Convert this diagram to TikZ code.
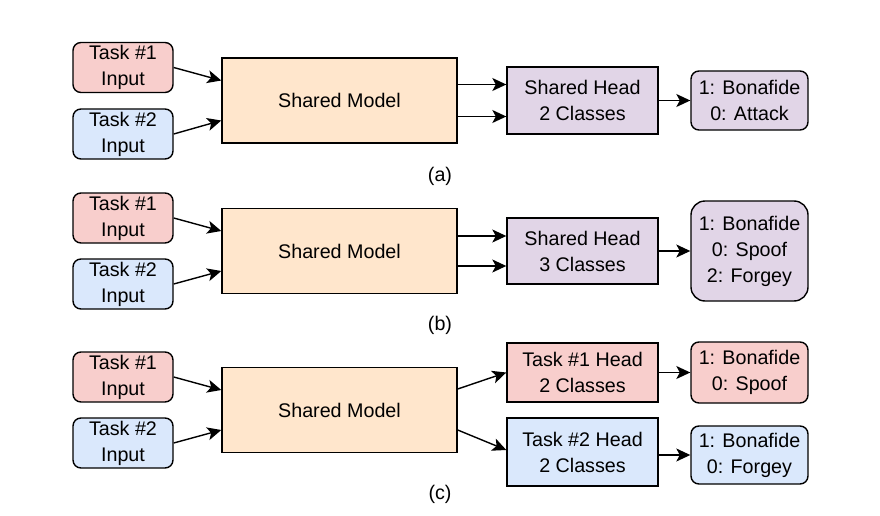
\documentclass[tikz,border=0pt]{standalone}
\usepackage{fontspec}
\setmainfont{Liberation Sans}
\usetikzlibrary{arrows.meta,calc}
\definecolor{redf}{HTML}{F8CECC}
\definecolor{bluef}{HTML}{DAE8FC}
\definecolor{orangef}{HTML}{FFE6CC}
\definecolor{purplef}{HTML}{E1D5E7}
\begin{document}
\begin{tikzpicture}[x=1pt,y=-1pt,
  every node/.style={font=\fontsize{19.7}{26}\selectfont, align=center, inner sep=0pt},
  box/.style={draw=black, line width=1.4pt},
  rbox/.style={box, rounded corners=8pt},
  inred/.style={rbox, fill=redf, minimum width=100pt, minimum height=50pt},
  inblue/.style={rbox, fill=bluef, minimum width=100pt, minimum height=50pt},
  model/.style={box, fill=orangef, minimum width=235pt, minimum height=85pt},
  headbox/.style={box, minimum width=151pt},
  outbox/.style={rbox, minimum width=117pt},
  arr/.style={-{Stealth[length=14pt,width=13pt,inset=3.5pt]}, line width=1.4pt},
  captxt/.style={}
]
\useasboundingbox (0,0) rectangle (880,516);

% ---------- (a)
\node[inred]  (in1a) at (123,67.5) {Task \#1\\Input};
\node[inblue] (in2a) at (123,134) {Task \#2\\Input};
\node[model]  (sma)  at (339.5,100.5) {Shared Model};
\node[headbox, fill=purplef, minimum height=67pt] (heada) at (582.5,100.5) {Shared Head\\2 Classes};
\node[outbox, fill=purplef, minimum height=59pt] (outa) at (749.5,100.5) {1: Bonafide\\0: Attack};
\node[captxt] (capa) at (440,176) {(a)};
\draw[arr] (in1a.east) -- ([yshift=20pt]sma.west);
\draw[arr] (in2a.east) -- ([yshift=-20pt]sma.west);
\draw[arr] ([yshift=16pt]sma.east) -- ([yshift=16pt]heada.west);
\draw[arr] ([yshift=-16pt]sma.east) -- ([yshift=-16pt]heada.west);
\draw[arr] (heada.east) -- (outa.west);

% ---------- (b)
\node[inred]  (in1b) at (123,218) {Task \#1\\Input};
\node[inblue] (in2b) at (123,284) {Task \#2\\Input};
\node[model]  (smb)  at (339.5,251) {Shared Model};
\node[headbox, fill=purplef, minimum height=66pt] (headb) at (582.5,251) {Shared Head\\3 Classes};
\node[outbox, fill=purplef, minimum height=100pt, rounded corners=14pt] (outb) at (749.5,251) {1: Bonafide\\0: Spoof\\2: Forgey};
\node[captxt] (capb) at (440,325) {(b)};
\draw[arr] (in1b.east) -- ([yshift=20pt]smb.west);
\draw[arr] (in2b.east) -- ([yshift=-20pt]smb.west);
\draw[arr] ([yshift=15pt]smb.east) -- ([yshift=15pt]headb.west);
\draw[arr] ([yshift=-15pt]smb.east) -- ([yshift=-15pt]headb.west);
\draw[arr] (headb.east) -- (outb.west);

% ---------- (c)
\node[inred]  (in1c) at (123,377) {Task \#1\\Input};
\node[inblue] (in2c) at (123,443) {Task \#2\\Input};
\node[model]  (smc)  at (339.5,410) {Shared Model};
\node[headbox, fill=redf, minimum height=59pt] (head1c) at (582.5,372.5) {Task \#1 Head\\2 Classes};
\node[headbox, fill=bluef, minimum height=68pt] (head2c) at (582.5,452) {Task \#2 Head\\2 Classes};
\node[outbox, fill=redf, minimum height=61pt] (out1c) at (749.5,372.5) {1: Bonafide\\0: Spoof};
\node[outbox, fill=bluef, minimum height=58pt] (out2c) at (749.5,455) {1: Bonafide\\0: Forgey};
\node[captxt] (capc) at (440,494) {(c)};
\draw[arr] (in1c.east) -- ([yshift=20pt]smc.west);
\draw[arr] (in2c.east) -- ([yshift=-20pt]smc.west);
\draw[arr] ([yshift=21pt]smc.east) -- (head1c.west);
\draw[arr] ([yshift=-20pt]smc.east) -- ([yshift=2pt]head2c.west);
\draw[arr] (head1c.east) -- (out1c.west);
\draw[arr] (head2c.east |- out2c.west) -- (out2c.west);
\end{tikzpicture}
\end{document}
